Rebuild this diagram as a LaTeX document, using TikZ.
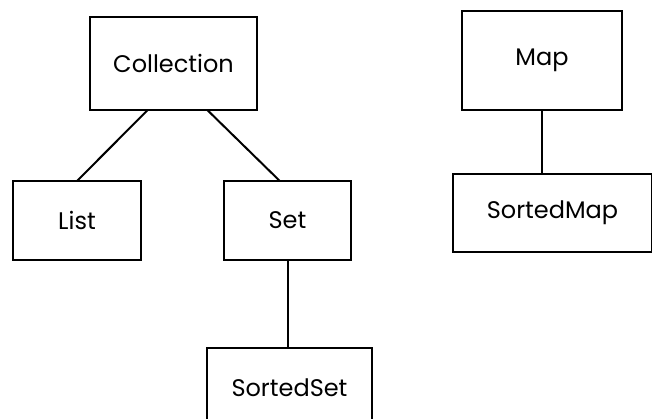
\documentclass[tikz,border=0pt]{standalone}
\usepackage{fontspec}
\setmainfont{Poppins}
\usepackage{tikz}

\begin{document}
\begin{tikzpicture}[x=1pt, y=1pt, every node/.style={draw, line width=2pt, inner sep=0pt, outer sep=0pt, font=\fontsize{24}{28}\selectfont}]
\useasboundingbox (0,0) rectangle (652,419);
\clip (0,0) rectangle (652,419);
\node[minimum width=167, minimum height=93] (coll) at (173.5,355.5) {Collection};
\node[minimum width=128, minimum height=79] (list) at (77,198.5) {List};
\node[minimum width=127, minimum height=79] (set) at (287.5,198.5) {Set};
\node[minimum width=165, minimum height=79] (sset) at (289.5,31.5) {SortedSet};

\node[minimum width=160, minimum height=99] (map) at (542,358.5) {Map};
\node[minimum width=199, minimum height=78] (smap) at (552.5,206) {SortedMap};

\draw[line width=2pt] (coll.241) -- (list.north);
\draw[line width=2pt] (coll.306) -- (set.101);
\draw[line width=2pt] (set.south) -- (set.south |- sset.north);
\draw[line width=2pt] (map.south) -- (map.south |- smap.north);
\end{tikzpicture}
\end{document}
